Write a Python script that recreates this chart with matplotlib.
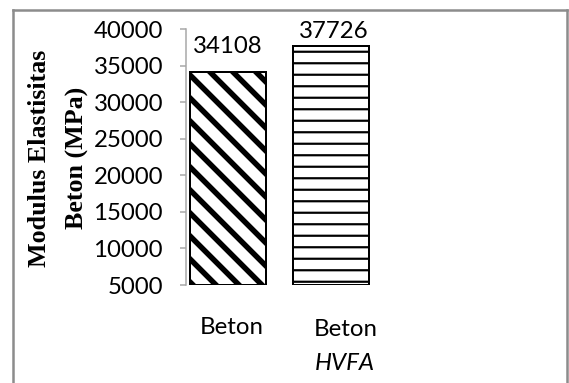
import matplotlib
matplotlib.use("Agg")
import matplotlib.pyplot as plt
from matplotlib.lines import Line2D

# data
categories = ["Beton", "Beton HVFA"]
values = [34108, 37726]
hatches = ["\\\\", "--"]
y_ticks = [5000, 10000, 15000, 20000, 25000, 30000, 35000, 40000]
y_min, y_max = 5000, 40000

DPI = 138
W, H = 569, 383


def px(v):
    # pixels -> points at this dpi
    return v * 72.0 / DPI


plt.rcParams["font.family"] = ["Lato", "DejaVu Sans"]

fig = plt.figure(figsize=(W / DPI, H / DPI), dpi=DPI, facecolor="white")

# chart area border (bottom edge runs off the page)
border = dict(color="#8c8c8c", lw=px(2.5), transform=fig.transFigure)
x0, x1, ytop = 12.5 / W, 566.5 / W, 1 - 10 / H
fig.add_artist(Line2D([x0, x0], [0, ytop], **border))
fig.add_artist(Line2D([x0, x1], [ytop, ytop], **border))
fig.add_artist(Line2D([x1, x1], [ytop, 0], **border))

ax_left, ax_right = 186 / W, 373 / W
ax_bottom, ax_top = 1 - 285 / H, 1 - 29 / H
ax = fig.add_axes([ax_left, ax_bottom, ax_right - ax_left, ax_top - ax_bottom])
ax.set_facecolor("none")

# bars start at the axis minimum so the bottom edge is drawn
xs = list(range(len(values)))
bars = ax.bar(xs, [v - y_min for v in values], width=0.735, bottom=y_min,
              color="white", edgecolor="black", linewidth=px(2), zorder=3)
bar_lw = [px(5.5), px(2.2)]
for b, h, lw in zip(bars, hatches, bar_lw):
    b.set_hatch(h)
    if hasattr(b, "set_hatch_linewidth"):
        b.set_hatch_linewidth(lw)

ax.set_xlim(-0.407, 1.407)
ax.set_ylim(y_min, y_max)
ax.set_yticks(y_ticks)
ax.set_yticklabels([str(t) for t in y_ticks], fontsize=px(24))
ax.tick_params(axis="y", length=px(6), width=px(1.5), color="#a6a6a6",
               pad=px(17), direction="out")
ax.tick_params(axis="x", length=0, labelbottom=False)

for s in ["top", "right", "bottom"]:
    ax.spines[s].set_visible(False)
ax.spines["left"].set_color("#a6a6a6")
ax.spines["left"].set_linewidth(px(1.5))

# value labels
label_offsets = [(0, 26), (3, 14)]
for x, v, off in zip(xs, values, label_offsets):
    ax.annotate(str(v), xy=(x, v), xytext=off, textcoords="offset pixels",
                ha="center", va="center", fontsize=px(24))

# category labels
xt = ax.get_xaxis_transform()
ax.annotate("Beton", xy=(0, 0), xycoords=xt, xytext=(4, -42),
            textcoords="offset pixels", ha="center", va="center",
            fontsize=px(24))
ax.annotate("Beton", xy=(1, 0), xycoords=xt, xytext=(15, -45),
            textcoords="offset pixels", ha="center", va="center",
            fontsize=px(24))
ax.annotate("HVFA", xy=(1, 0), xycoords=xt, xytext=(14, -78),
            textcoords="offset pixels", ha="center", va="center",
            fontsize=px(24), style="italic")

# y axis title
title_font = dict(rotation=90, ha="center", va="center", fontsize=px(26),
                  fontweight="bold", family=["Liberation Serif", "DejaVu Serif"])
fig.text(40 / W, 1 - 158 / H, "Modulus Elastisitas", **title_font)
fig.text(77 / W, 1 - 158 / H, "Beton (MPa)", **title_font)

fig.savefig("out.png", dpi=DPI, facecolor="white")
